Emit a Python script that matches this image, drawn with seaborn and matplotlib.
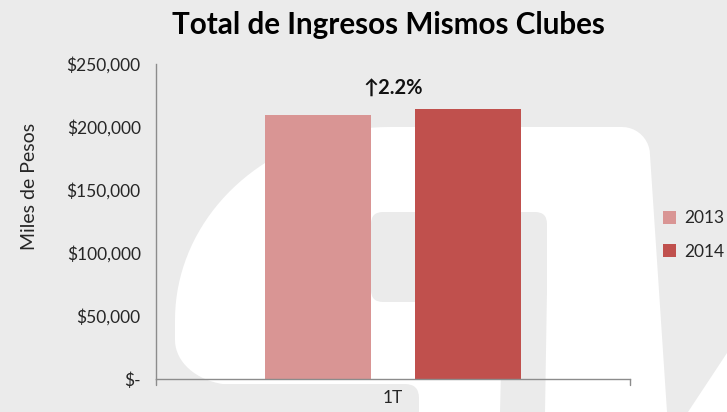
import numpy as np
import pandas as pd
import matplotlib
matplotlib.use("Agg")
import matplotlib.pyplot as plt
from matplotlib.patches import Polygon, FancyBboxPatch
import seaborn as sns

# datos
trimestres = ["1T"]
anios = ["2013", "2014"]
ingresos_2013 = [209500]
ingresos_2014 = [214100]
crecimiento = "↑2.2%"
yticks = [0, 50000, 100000, 150000, 200000, 250000]
ytick_labels = ["$-", "$50,000", "$100,000", "$150,000", "$200,000", "$250,000"]
colores = {"2013": "#D99594", "2014": "#C0504D"}

df = pd.DataFrame({
    "trimestre": trimestres * 2,
    "anio": ["2013"] * len(trimestres) + ["2014"] * len(trimestres),
    "ingresos": ingresos_2013 + ingresos_2014,
})

sns.set_style("white")
plt.rcParams["font.family"] = ["Lato", "DejaVu Sans"]

W, H = 727, 412
fig = plt.figure(figsize=(W / 100, H / 100), dpi=100)
fig.patch.set_facecolor("#EBEBEB")

# marca de agua de fondo (en pixeles)
bg = fig.add_axes([0, 0, 1, 1], zorder=0)
bg.set_xlim(0, W)
bg.set_ylim(H, 0)
bg.axis("off")
gris = "#EBEBEB"
t = np.linspace(np.pi, np.pi / 2, 40)
arco = np.c_[390 + 215 * np.cos(t), 320 - 193 * np.sin(t)]
t2 = np.linspace(np.pi / 2, 0, 12)
esq = np.c_[622 + 28 * np.cos(t2), 155 - 28 * np.sin(t2)]
t3 = np.linspace(np.pi * 1.5, np.pi, 20)
abajo = np.c_[235 + 60 * np.cos(t3), 340 - 60 * np.sin(t3) * 0.75]
pts = np.vstack([arco, esq, [[667, 412], [235, 412]], abajo])
bg.add_patch(Polygon(pts, closed=True, facecolor="white", edgecolor="none"))
bg.add_patch(FancyBboxPatch((-40, 384), 459, 40, boxstyle="round,pad=0,rounding_size=14",
                            facecolor=gris, edgecolor="none"))
bg.add_patch(FancyBboxPatch((371, 212), 176, 90, boxstyle="round,pad=0,rounding_size=12",
                            facecolor=gris, edgecolor="none"))
bg.add_patch(Polygon([[503, 290], [547, 290], [545, 412], [500, 412]], closed=True,
                     facecolor=gris, edgecolor="none"))
bg.add_patch(Polygon([[688, 412], [727, 353], [727, 412]], closed=True,
                     facecolor="white", edgecolor="none"))

ax = fig.add_axes([156 / W, 1 - 379 / H, (630 - 156) / W, (379 - 63.5) / H], zorder=1)
ax.set_facecolor("none")

sns.barplot(data=df, x="trimestre", y="ingresos", hue="anio", hue_order=anios,
            palette=colores, width=0.632, gap=0.29, saturation=1, linewidth=0,
            edgecolor="none", ax=ax)

ax.set_xlim(-0.5, 0.5)
ax.set_ylim(0, 250000)
ax.set_yticks(yticks)
ax.set_yticklabels(ytick_labels)
ax.tick_params(axis="y", direction="out", length=5, width=1, color="#8C8C8C",
               labelsize=12.5, labelcolor="#262626", pad=6)
ax.tick_params(axis="x", length=0, labelsize=12.5, labelcolor="#262626", pad=8)
ax.set_xlabel("")
ax.set_ylabel("Miles de Pesos", fontsize=14, color="#262626")
ax.yaxis.set_label_coords(-0.248, 0.61)

for s in ["top", "right"]:
    ax.spines[s].set_visible(False)
for s in ["left", "bottom"]:
    ax.spines[s].set_color("#8C8C8C")
    ax.spines[s].set_linewidth(1)
# marcas en los extremos del eje x
for xe in [-0.5, 0.5]:
    ax.plot([xe, xe], [0, -0.018], transform=ax.get_xaxis_transform(),
            color="#8C8C8C", lw=1, clip_on=False)

ax.text(0.0, 230600, crecimiento, ha="center", va="center", fontsize=14.5,
        fontweight="bold", color="#111111")

fig.text(388 / W, 1 - 25 / H, "Total de Ingresos Mismos Clubes", ha="center",
         va="center", fontsize=21.3, fontweight="bold", color="#000000")

leg = ax.legend(loc="center left", bbox_to_anchor=(1.07, 0.456), frameon=False,
                fontsize=12.5, handlelength=0.75, handleheight=0.75, handletextpad=0.45,
                labelspacing=1.0, borderpad=0, borderaxespad=0, title=None)
for txt in leg.get_texts():
    txt.set_color("#262626")

fig.savefig("out.png", dpi=100, facecolor=fig.get_facecolor())
